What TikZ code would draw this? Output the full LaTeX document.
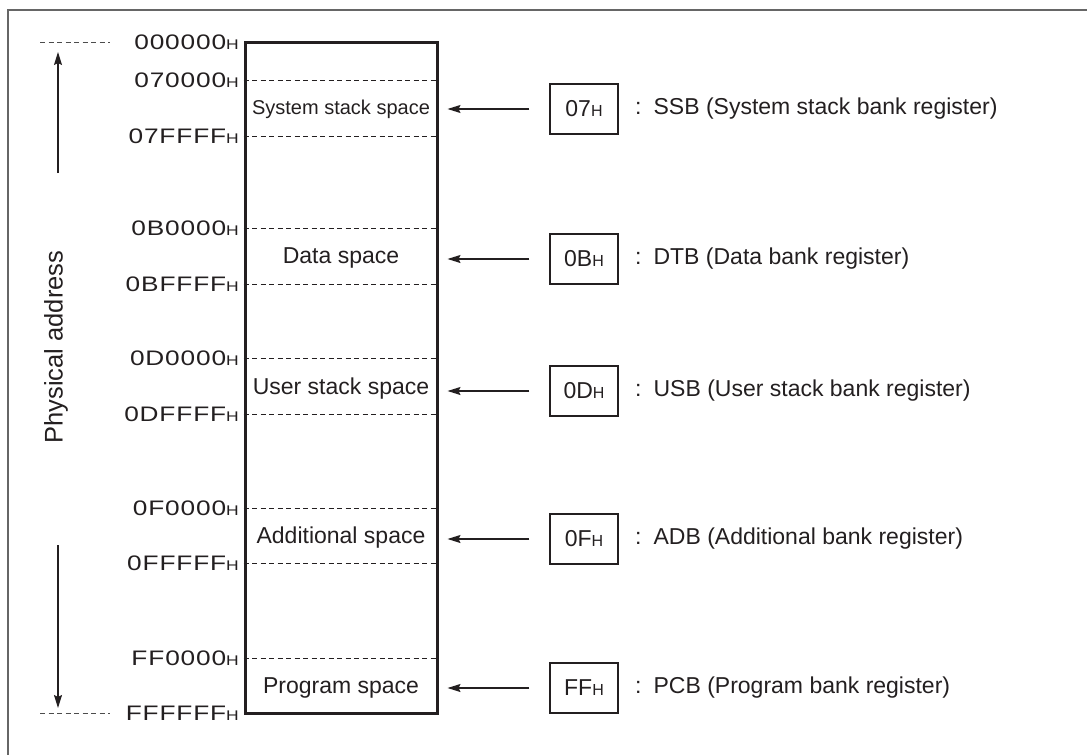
\documentclass[tikz,border=0pt]{standalone}
\usepackage{fontspec}
\setmainfont{Liberation Sans}
\newfontfamily\addrfont[FakeStretch=1.25,LetterSpace=4]{Liberation Sans}
\usetikzlibrary{arrows.meta}
\definecolor{ink}{HTML}{231F20}

\newcommand\hexaddr[1]{{\addrfont\fontsize{21}{21}\selectfont #1\fontsize{14}{14}\selectfont H}}
\newcommand\hexreg[1]{{\fontsize{23}{23}\selectfont #1\fontsize{16}{16}\selectfont H}}

\begin{document}
\begin{tikzpicture}[x=1pt, y=-1pt, > = {Stealth[length=13pt,width=8pt,inset=2pt]}, every node/.style = {text=ink},
    frame/.style = {draw=black!60, line width=2pt},
    membox/.style = {draw=ink, line width=3pt, inner sep=0pt, minimum width=192, minimum height=671},
    bankline/.style = {draw=ink, line width=1pt, dash pattern=on 5pt off 3.5pt},
    addr/.style = {anchor=east, inner sep=0pt},
    region/.style = {font=\fontsize{23}{23}\selectfont},
    regbox/.style = {draw=ink, line width=1.3pt, minimum width=68, minimum height=50, inner sep=0pt},
    regtext/.style = {anchor=west, inner sep=0pt, font=\fontsize{23}{23}\selectfont},
    bankarrow/.style = {->, draw=ink, line width=1.3pt, shorten <=20pt, shorten >=9pt}]

    \useasboundingbox (0,0) rectangle (1087,755);

    % frame
    \draw[frame] (1087,10) -- (8,10) -- (8,755);

    % memory map
    \node[membox] (mem) at (341,377.5) {};
    \foreach \y in {80,136,228,284,358,414,508,563,658}
        \draw[bankline] (mem.west |- 0,\y) -- (mem.east |- 0,\y);

    % addresses
    \foreach \y/\a in {42/000000, 80/070000, 136/07FFFF, 228/0B0000, 284/0BFFFF, 358/0D0000, 414/0DFFFF, 508/0F0000, 563/0FFFFF, 658/FF0000, 713/FFFFFF}
        \node[addr] (a\a) at (239,\y) {\hexaddr{\a}};

    % spaces
    \node[region, font=\fontsize{20}{20}\selectfont] (sss) at (341,109) {System stack space};
    \node[region] (ds) at (341,258) {Data space};
    \node[region] (uss) at (341,389) {User stack space};
    \node[region] (as) at (341,538) {Additional space};
    \node[region] (ps) at (341,688) {Program space};

    % bank registers
    \node[regbox] (ssb) at (584,109) {\hexreg{07}};
    \node[regbox] (dtb) at (584,259) {\hexreg{0B}};
    \node[regbox] (usb) at (584,391) {\hexreg{0D}};
    \node[regbox] (adb) at (584,539) {\hexreg{0F}};
    \node[regbox] (pcb) at (584,688) {\hexreg{FF}};

    \node[regtext] (ssbt) at (635,109) {:\hspace{12pt}SSB (System stack bank register)};
    \node[regtext] (dtbt) at (635,259) {:\hspace{12pt}DTB (Data bank register)};
    \node[regtext] (usbt) at (635,391) {:\hspace{12pt}USB (User stack bank register)};
    \node[regtext] (adbt) at (635,539) {:\hspace{12pt}ADB (Additional bank register)};
    \node[regtext] (pcbt) at (635,688) {:\hspace{12pt}PCB (Program bank register)};

    \foreach \r in {ssb,dtb,usb,adb,pcb}
        \draw[bankarrow] (\r.west) -- (\r.west -| mem.east);

    % physical address axis
    \node[rotate=90, font=\fontsize{25.5}{25.5}\selectfont] (phys) at (56,347) {Physical address};
    \coordinate (lo) at (40,42);
    \coordinate (hi) at (40,713);
    \draw[bankline, draw=black!70] (lo) -- ++(70,0);
    \draw[bankline, draw=black!70] (hi) -- ++(70,0);
    \coordinate (up0) at (58,173);
    \coordinate (up1) at (58,52);
    \coordinate (dn0) at (58,545);
    \coordinate (dn1) at (58,708);
    \draw[->, draw=ink, line width=1.3pt] (up0) -- (up1);
    \draw[->, draw=ink, line width=1.3pt] (dn0) -- (dn1);

\end{tikzpicture}
\end{document}
